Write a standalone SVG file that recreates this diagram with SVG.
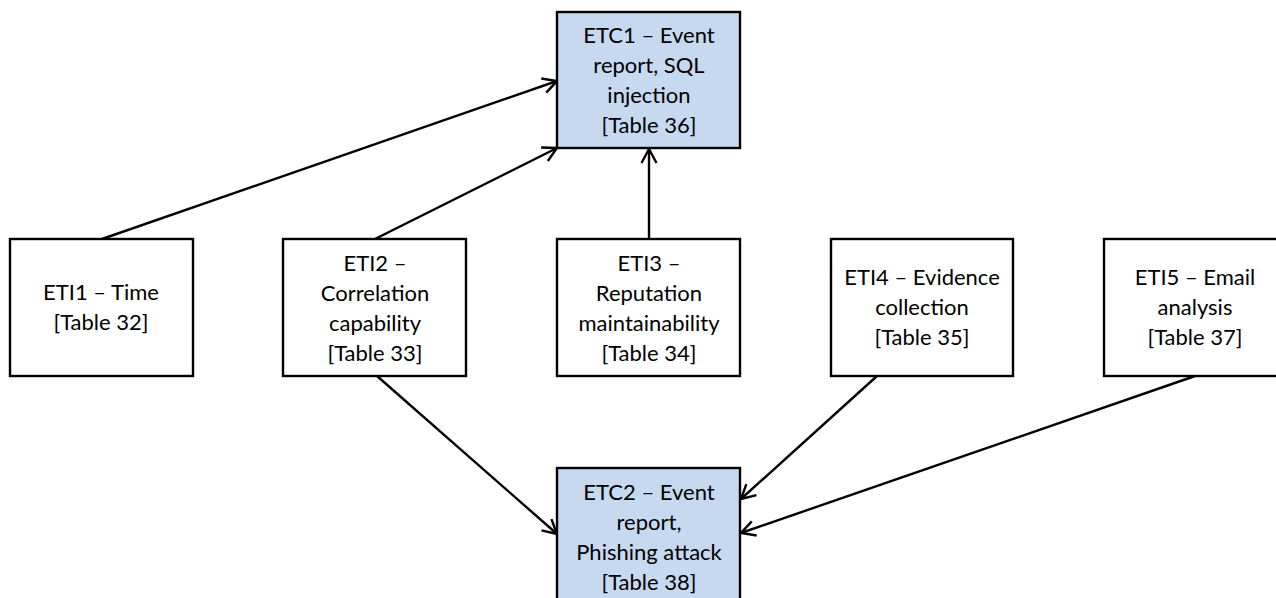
<svg xmlns="http://www.w3.org/2000/svg" width="1276" height="598" viewBox="0 0 1276 598">
  <style>
    .box { fill: #ffffff; stroke: #000000; stroke-width: 2.4; }
    .cat { fill: #c6d9f1; stroke: #000000; stroke-width: 2.4; }
    .lbl { font-family: Lato, "Liberation Sans", sans-serif; font-size: 22px; fill: #000000; text-anchor: middle; }
    .edge { stroke: #000000; stroke-width: 2.4; fill: none; marker-end: url(#open); }
  </style>
  <defs>
    <marker id="open" viewBox="0 0 16 18" refX="15" refY="9" markerWidth="16" markerHeight="18" markerUnits="userSpaceOnUse" orient="auto">
      <path d="M1,1.5 L15,9 L1,16.5" fill="none" stroke="#000000" stroke-width="2.4"/>
    </marker>
  </defs>
  <rect width="1276" height="598" fill="#ffffff"/>

  <g id="connectors">
    <line class="edge" x1="102" y1="239" x2="557" y2="81"/>
    <line class="edge" x1="375" y1="239" x2="557" y2="148"/>
    <line class="edge" x1="649" y1="239" x2="649" y2="149"/>
    <line class="edge" x1="377" y1="376" x2="557" y2="534"/>
    <line class="edge" x1="877" y1="376" x2="741" y2="499"/>
    <line class="edge" x1="1195" y1="376" x2="741" y2="533"/>
  </g>

  <g id="etc1">
    <rect class="cat" x="557" y="12" width="183" height="136"/>
    <text class="lbl" x="649" y="43">ETC1 – Event</text>
    <text class="lbl" x="649" y="73">report, SQL</text>
    <text class="lbl" x="649" y="103">injection</text>
    <text class="lbl" x="649" y="133">[Table 36]</text>
  </g>

  <g id="eti1">
    <rect class="box" x="10" y="239" width="183" height="137"/>
    <text class="lbl" x="101" y="300">ETI1 – Time</text>
    <text class="lbl" x="101" y="330">[Table 32]</text>
  </g>

  <g id="eti2">
    <rect class="box" x="283" y="239" width="183" height="137"/>
    <text class="lbl" x="375" y="271">ETI2 –</text>
    <text class="lbl" x="375" y="301">Correlation</text>
    <text class="lbl" x="375" y="331">capability</text>
    <text class="lbl" x="375" y="361">[Table 33]</text>
  </g>

  <g id="eti3">
    <rect class="box" x="557" y="239" width="183" height="137"/>
    <text class="lbl" x="649" y="271">ETI3 –</text>
    <text class="lbl" x="649" y="301">Reputation</text>
    <text class="lbl" x="649" y="331">maintainability</text>
    <text class="lbl" x="649" y="361">[Table 34]</text>
  </g>

  <g id="eti4">
    <rect class="box" x="831" y="239" width="182" height="137"/>
    <text class="lbl" x="922" y="285">ETI4 – Evidence</text>
    <text class="lbl" x="922" y="315">collection</text>
    <text class="lbl" x="922" y="345">[Table 35]</text>
  </g>

  <g id="eti5">
    <rect class="box" x="1104" y="239" width="183" height="137"/>
    <text class="lbl" x="1195" y="285">ETI5 – Email</text>
    <text class="lbl" x="1195" y="315">analysis</text>
    <text class="lbl" x="1195" y="345">[Table 37]</text>
  </g>

  <g id="etc2">
    <rect class="cat" x="557" y="468" width="183" height="140"/>
    <text class="lbl" x="649" y="500">ETC2 – Event</text>
    <text class="lbl" x="649" y="530">report,</text>
    <text class="lbl" x="649" y="560">Phishing attack</text>
    <text class="lbl" x="649" y="590">[Table 38]</text>
  </g>
</svg>
